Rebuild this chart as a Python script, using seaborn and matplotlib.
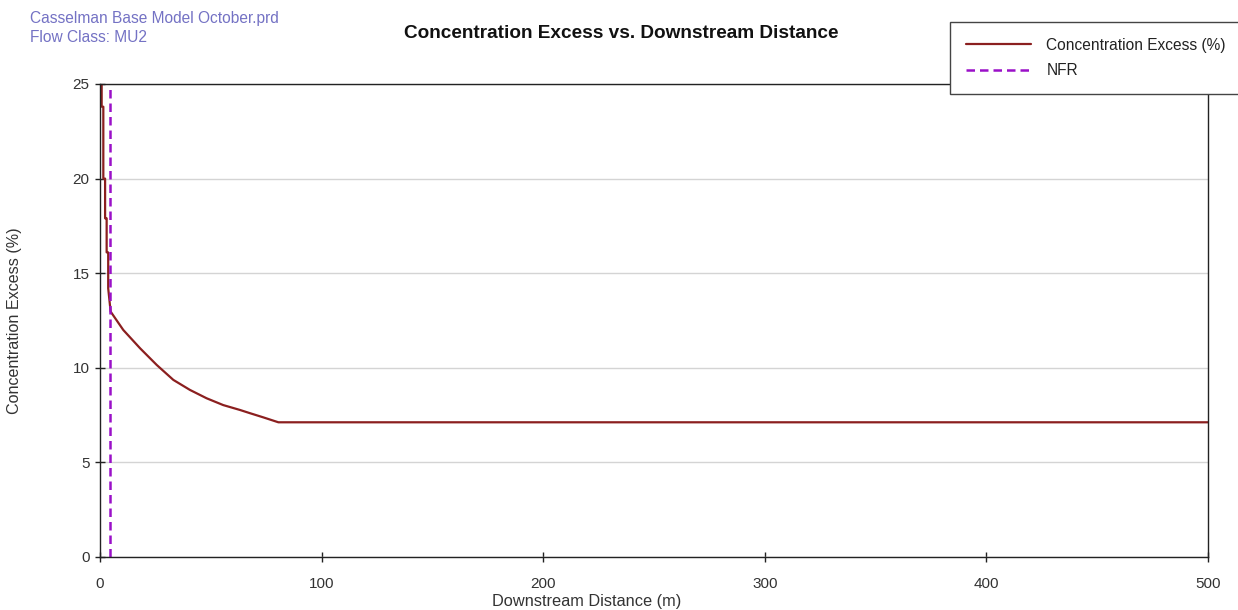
import numpy as np
import pandas as pd
import matplotlib
matplotlib.use("Agg")
import matplotlib.pyplot as plt
import seaborn as sns

# Plume centreline concentration excess along the downstream axis
distance_m = [0.5, 0.75, 0.75, 1.5, 1.5, 2.3, 2.3, 3.0, 3.0, 3.7, 3.7,
              4.8, 10.5, 18.1, 25.6, 33.1, 40.6, 48.1, 55.6, 63.2,
              67.7, 73.7, 80.5, 100, 200, 300, 400, 500]
conc_excess = [25.0, 25.0, 23.8, 23.8, 20.0, 20.0, 17.9, 17.9, 16.1, 16.1, 14.2,
               12.97, 12.0, 11.03, 10.15, 9.36, 8.83, 8.39, 8.03, 7.77,
               7.6, 7.38, 7.12, 7.12, 7.12, 7.12, 7.12, 7.12]

# Near-field region boundary
nfr_x = [4.6, 4.6]
nfr_y = [0, 25]

x_ticks = [0, 100, 200, 300, 400, 500]
y_ticks = [0, 5, 10, 15, 20, 25]

sns.set_style("white")
plt.rcParams["font.family"] = ["Liberation Sans", "DejaVu Sans"]

W, H = 1238, 610
fig = plt.figure(figsize=(W / 100, H / 100), dpi=100)
ax = fig.add_axes([100 / W, 1 - 557 / H, 1108 / W, 473 / H])

curve = pd.DataFrame({"x": distance_m, "y": conc_excess})
nfr = pd.DataFrame({"x": nfr_x, "y": nfr_y})

sns.lineplot(data=curve, x="x", y="y", ax=ax, color="#8b1f1f", linewidth=1.6,
             sort=False, estimator=None, label="Concentration Excess (%)")
sns.lineplot(data=nfr, x="x", y="y", ax=ax, color="#9a10c8", linewidth=1.8,
             sort=False, estimator=None, label="NFR", dashes=False)
ax.lines[-1].set_dashes((3.4, 2.0))

ax.set_xlim(0, 500)
ax.set_ylim(0, 25)
ax.set_xticks(x_ticks)
ax.set_yticks(y_ticks)
ax.yaxis.grid(True, color="#d4d4d4", linewidth=1.0)
ax.xaxis.grid(False)
ax.set_axisbelow(True)
for side in ["left", "bottom", "top", "right"]:
    ax.spines[side].set_visible(True)
    ax.spines[side].set_color("#222222")
    ax.spines[side].set_linewidth(1.0)
ax.tick_params(axis="both", direction="inout", length=7, width=1.0,
               color="#222222", labelsize=11, labelcolor="#333333")
ax.tick_params(axis="x", pad=11)
ax.tick_params(axis="y", pad=4)
ax.tick_params(left=True, bottom=True)

ax.set_xlabel("Downstream Distance (m)", fontsize=11.8, color="#333333")
ax.set_ylabel("Concentration Excess (%)", fontsize=11.6, color="#333333")
ax.xaxis.set_label_coords((587 - 100) / 1108, -37 / 473)
ax.yaxis.set_label_coords(-78 / 1108, 0.5)

fig.text(621 / W, 1 - 33 / H, "Concentration Excess vs. Downstream Distance",
         ha="center", va="center", fontsize=13.7, fontweight="bold", color="#111111")
fig.text(30 / W, 1 - 18 / H, "Casselman Base Model October.prd",
         ha="left", va="center", fontsize=11.2, color="#7472c4")
fig.text(30 / W, 1 - 37 / H, "Flow Class: MU2",
         ha="left", va="center", fontsize=11.2, color="#7472c4")

leg = ax.legend(loc="upper left",
                bbox_to_anchor=(950 / W, 1 - 92 / H, 330 / W, 70 / H),
                bbox_transform=fig.transFigure, mode="expand",
                frameon=True, fancybox=False,
                fontsize=11.2, handlelength=4.2, handletextpad=1.0,
                borderpad=1.0, labelspacing=0.7, borderaxespad=0)
leg.get_frame().set_edgecolor("#444444")
leg.get_frame().set_linewidth(1.0)
leg.get_frame().set_facecolor("white")
leg.get_frame().set_alpha(1.0)
leg.set_zorder(10)
for t in leg.get_texts():
    t.set_color("#222222")

fig.savefig("out.png", dpi=100, facecolor="white")
